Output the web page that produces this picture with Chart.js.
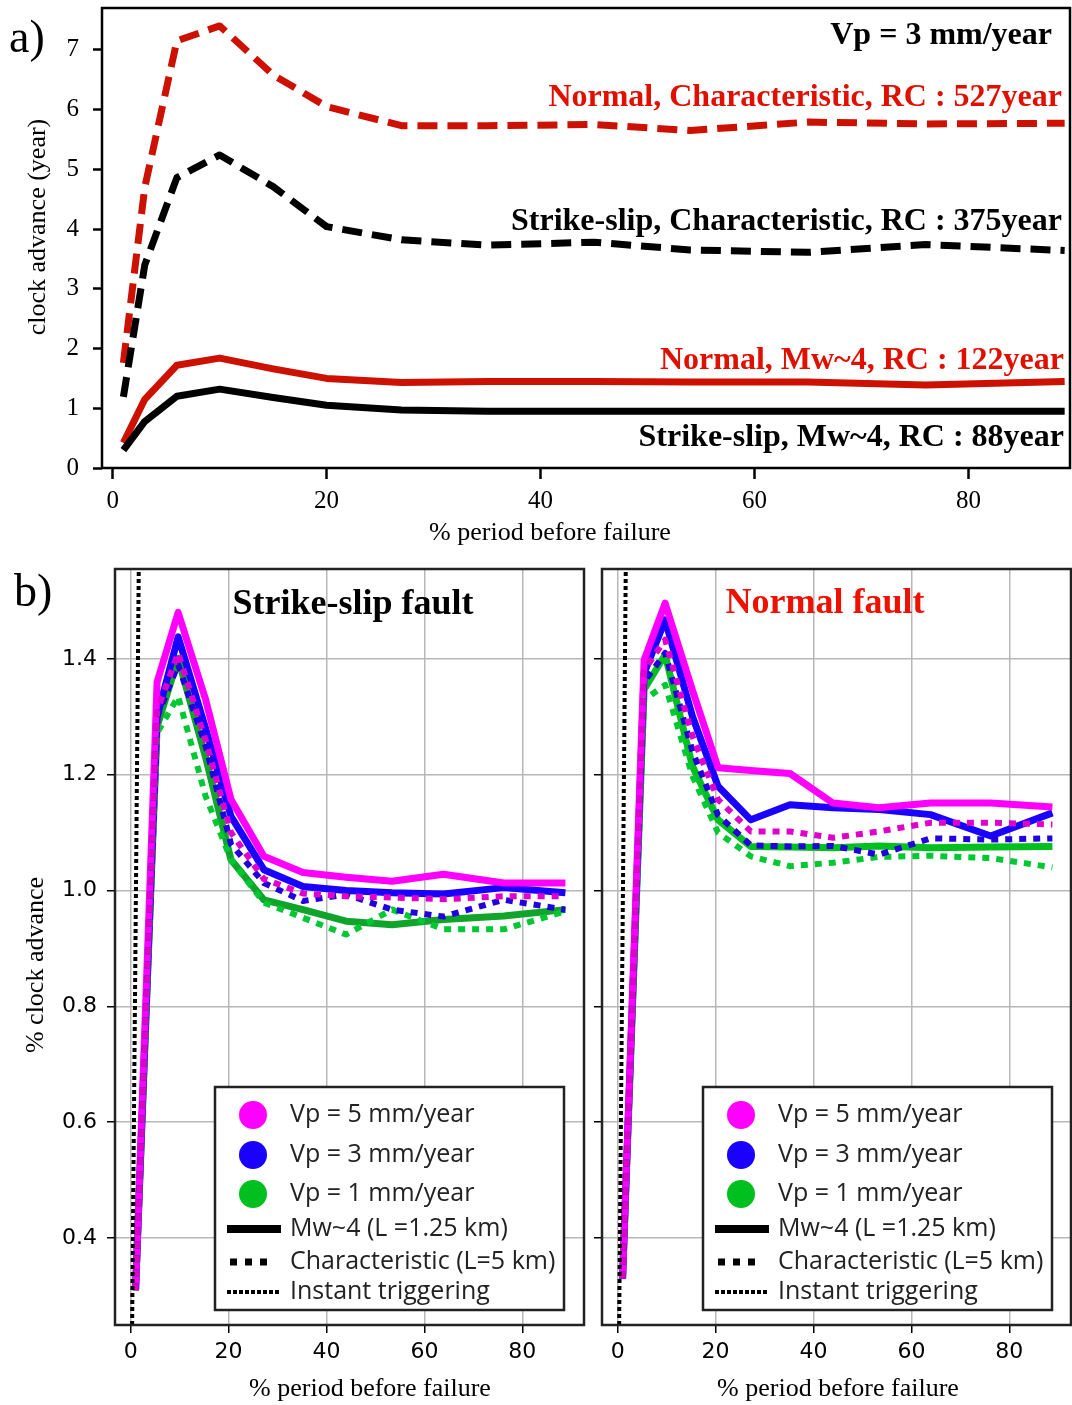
<!DOCTYPE html>
<html>
<head>
<meta charset="utf-8">
<script src="https://cdn.jsdelivr.net/npm/chart.js@4.4.1/dist/chart.umd.min.js"></script>
<style>
  body { margin: 0; background: #fff; }
  #wrap { position: relative; width: 1072px; height: 1405px; }
  .panel { position: absolute; }
  .tag { position: absolute; font-family: "Liberation Serif", serif; font-size: 46px; line-height: 1; color: #000; }
</style>
</head>
<body>
<div id="wrap">
  <div class="panel" style="left:0;top:0;width:1072px;height:560px"><canvas id="chartA"></canvas></div>
  <div class="panel" style="left:0;top:560px;width:590px;height:845px"><canvas id="chartSS"></canvas></div>
  <div class="panel" style="left:590px;top:560px;width:482px;height:845px"><canvas id="chartN"></canvas></div>
  <div class="tag" style="left:9px;top:14px">a)</div>
  <div class="tag" style="left:14px;top:568px">b)</div>
</div>
<script>
// ---- panel a : clock advance (year), Vp = 3 mm/year ----
const xA = [1, 3, 6, 10, 15, 20, 27, 35, 45, 54, 65, 76, 89];
const normalChar = [1.76, 4.7, 7.15, 7.4, 6.58, 6.05, 5.73, 5.73, 5.75, 5.65, 5.79, 5.76, 5.77];
const ssChar = [1.19, 3.4, 4.86, 5.24, 4.71, 4.04, 3.82, 3.73, 3.78, 3.65, 3.61, 3.74, 3.64];
const normalMw4 = [0.42, 1.15, 1.72, 1.84, 1.66, 1.5, 1.43, 1.45, 1.45, 1.44, 1.44, 1.39, 1.45];
const ssMw4 = [0.3, 0.78, 1.2, 1.32, 1.18, 1.05, 0.97, 0.95, 0.95, 0.95, 0.95, 0.95, 0.95];
const ticksAx = [0, 20, 40, 60, 80];
const ticksAy = [0, 1, 2, 3, 4, 5, 6, 7];

// ---- panel b : % clock advance ----
const xB = [1, 5.4, 9.7, 15.3, 20.5, 27.2, 35.2, 44, 53.4, 63.9, 76.2, 88.8];
// strike-slip fault
const ssVp5Mw4 = [0.31, 1.36, 1.48, 1.33, 1.157, 1.059, 1.031, 1.023, 1.016, 1.028, 1.013, 1.013];
const ssVp3Mw4 = [0.31, 1.3, 1.438, 1.28, 1.128, 1.036, 1.007, 1.0, 0.996, 0.994, 1.005, 0.996];
const ssVp1Mw4 = [0.31, 1.283, 1.401, 1.23, 1.053, 0.984, 0.967, 0.947, 0.941, 0.95, 0.956, 0.967];
const ssVp5Char = [0.31, 1.31, 1.41, 1.26, 1.1, 1.02, 0.995, 0.99, 0.988, 0.985, 0.99, 0.99];
const ssVp3Char = [0.31, 1.3, 1.39, 1.25, 1.08, 1.013, 0.982, 0.993, 0.967, 0.955, 0.984, 0.967];
const ssVp1Char = [0.31, 1.272, 1.335, 1.163, 1.053, 0.979, 0.953, 0.924, 0.967, 0.933, 0.933, 0.964];
// normal fault
const nVp5Mw4 = [0.33, 1.398, 1.496, 1.345, 1.212, 1.207, 1.202, 1.151, 1.143, 1.151, 1.151, 1.144];
const nVp3Mw4 = [0.33, 1.375, 1.467, 1.3, 1.18, 1.122, 1.148, 1.143, 1.14, 1.131, 1.094, 1.134];
const nVp1Mw4 = [0.33, 1.347, 1.407, 1.214, 1.122, 1.076, 1.075, 1.074, 1.077, 1.074, 1.075, 1.076];
const nVp5Char = [0.33, 1.38, 1.433, 1.266, 1.157, 1.102, 1.102, 1.091, 1.102, 1.117, 1.117, 1.114];
const nVp3Char = [0.33, 1.36, 1.41, 1.24, 1.13, 1.078, 1.076, 1.077, 1.062, 1.09, 1.088, 1.09];
const nVp1Char = [0.33, 1.329, 1.355, 1.197, 1.1, 1.059, 1.042, 1.048, 1.058, 1.06, 1.056, 1.04];
// instant triggering
const instX = [0.3, 1.7];
const instY = [0.25, 1.6];
const ticksBx = [0, 20, 40, 60, 80];
const ticksBy = [0.4, 0.6, 0.8, 1.0, 1.2, 1.4];

const legendLabels = ['Vp = 5 mm/year', 'Vp = 3 mm/year', 'Vp = 1 mm/year',
  'Mw~4 (L =1.25 km)', 'Characteristic (L=5 km)', 'Instant triggering'];

const RED = '#cc1100';
const RED_TEXT = '#e01000';
const MAGENTA = '#ff00ff';
const MAGENTA_DOT = '#e000cc';
const BLUE = '#1a00ff';
const BLUE_DOT = '#2200dd';
const GREEN = '#00c020';
const GREEN_DARK = '#10a42a';
const GREEN_DOT = '#00c832';

const pts = (xs, ys) => xs.map((x, i) => ({ x: x, y: ys[i] }));

function line(xs, ys, color, width, dash) {
  return {
    data: pts(xs, ys),
    borderColor: color,
    borderWidth: width,
    borderDash: dash || [],
    borderCapStyle: 'butt',
    borderJoinStyle: 'round',
    pointRadius: 0,
    tension: 0,
    fill: false,
  };
}

// no extra room for half tick labels, the plot area is fixed
const fixX = h => s => { s.height = h; s.paddingLeft = 0; s.paddingRight = 0; };
const fixY = w => s => { s.width = w; s.paddingTop = 0; s.paddingBottom = 0; };

// frame round the plot area
const framePlugin = {
  id: 'frame',
  afterDraw(chart, args, opts) {
    const a = chart.chartArea, ctx = chart.ctx;
    ctx.save();
    ctx.strokeStyle = opts.color || '#000';
    ctx.lineWidth = opts.width || 2;
    ctx.strokeRect(a.left, a.top, a.right - a.left, a.bottom - a.top);
    ctx.restore();
  }
};

// free text (labels, titles, axis names)
const notesPlugin = {
  id: 'notes',
  afterDraw(chart, args, opts) {
    const ctx = chart.ctx;
    (opts.items || []).forEach(n => {
      ctx.save();
      ctx.font = n.font;
      ctx.fillStyle = n.color || '#000';
      ctx.textAlign = n.align || 'center';
      ctx.textBaseline = 'middle';
      ctx.translate(n.x, n.y);
      if (n.rotate) ctx.rotate(n.rotate);
      ctx.fillText(n.text, 0, 0);
      ctx.restore();
    });
  }
};

// boxed legend inside panel b
const boxLegendPlugin = {
  id: 'boxLegend',
  afterDraw(chart, args, opts) {
    if (!opts.left) return;
    const ctx = chart.ctx;
    const L = opts.left, T = opts.top;
    const rows = [28, 68, 107, 142, 175, 205];
    ctx.save();
    ctx.fillStyle = '#fff';
    ctx.fillRect(L, T, 349, 223);
    ctx.strokeStyle = '#222';
    ctx.lineWidth = 2.5;
    ctx.strokeRect(L, T, 349, 223);
    const dots = [MAGENTA, BLUE, GREEN];
    dots.forEach((c, i) => {
      ctx.beginPath();
      ctx.fillStyle = c;
      ctx.arc(L + 38, T + rows[i], 14, 0, Math.PI * 2);
      ctx.fill();
    });
    const styles = [
      { w: 8, dash: [], x0: 12, x1: 66 },
      { w: 7, dash: [7, 8], x0: 15, x1: 53 },
      { w: 4, dash: [4, 2], x0: 12, x1: 66 },
    ];
    styles.forEach((s, i) => {
      ctx.beginPath();
      ctx.strokeStyle = '#000';
      ctx.lineWidth = s.w;
      ctx.setLineDash(s.dash);
      ctx.moveTo(L + s.x0, T + rows[i + 3]);
      ctx.lineTo(L + s.x1, T + rows[i + 3]);
      ctx.stroke();
    });
    ctx.setLineDash([]);
    ctx.fillStyle = '#222';
    ctx.font = '25px "Open Sans"';
    ctx.textAlign = 'left';
    ctx.textBaseline = 'middle';
    legendLabels.forEach((t, i) => ctx.fillText(t, L + 75, T + rows[i]));
    ctx.restore();
  }
};

const serif = '"Liberation Serif", serif';

// ---------------- panel a ----------------
new Chart(document.getElementById('chartA'), {
  type: 'line',
  data: {
    datasets: [
      line(xA, ssMw4, '#000', 7),
      line(xA, normalMw4, RED, 7),
      line(xA, ssChar, '#000', 7, [20, 10]),
      line(xA, normalChar, RED, 7, [20, 10]),
    ],
  },
  options: {
    responsive: true,
    maintainAspectRatio: false,
    animation: false,
    devicePixelRatio: 1,
    layout: { padding: { top: 8, right: 2, left: 0, bottom: 0 } },
    plugins: {
      legend: { display: false },
      tooltip: { enabled: false },
      frame: { width: 2.5, color: '#000' },
      notes: {
        items: [
          { text: 'Vp = 3 mm/year', x: 1052, y: 36, align: 'right', font: 'bold 32px ' + serif },
          { text: 'Normal, Characteristic, RC : 527year', x: 1062, y: 98, align: 'right', color: RED_TEXT, font: 'bold 32px ' + serif },
          { text: 'Strike-slip, Characteristic, RC : 375year', x: 1062, y: 222, align: 'right', font: 'bold 32px ' + serif },
          { text: 'Normal, Mw~4, RC : 122year', x: 1064, y: 361, align: 'right', color: RED_TEXT, font: 'bold 32px ' + serif },
          { text: 'Strike-slip, Mw~4, RC : 88year', x: 1064, y: 438, align: 'right', font: 'bold 32px ' + serif },
          { text: 'clock advance (year)', x: 38, y: 227, rotate: -Math.PI / 2, font: '26px ' + serif },
          { text: '% period before failure', x: 550, y: 533, font: '26px ' + serif },
        ],
      },
    },
    scales: {
      x: {
        type: 'linear', min: -1, max: 89.5,
        afterFit: fixX(92),
        afterBuildTicks: s => { s.ticks = ticksAx.map(v => ({ value: v })); },
        border: { display: false },
        grid: { drawOnChartArea: false, drawTicks: true, tickLength: 11, tickColor: '#000', tickWidth: 2.5 },
        ticks: { font: { family: serif, size: 25 }, color: '#000', padding: 7, maxRotation: 0 },
      },
      y: {
        type: 'linear', min: 0, max: 7.7,
        afterFit: fixY(102),
        afterBuildTicks: s => { s.ticks = ticksAy.map(v => ({ value: v })); },
        border: { display: false },
        grid: { drawOnChartArea: false, drawTicks: true, tickLength: 9, tickColor: '#000', tickWidth: 2.5 },
        ticks: { font: { family: serif, size: 25 }, color: '#000', padding: 14 },
      },
    },
  },
  plugins: [framePlugin, notesPlugin],
});

// ---------------- panel b ----------------
function panelB(id, series, opts) {
  return new Chart(document.getElementById(id), {
    type: 'line',
    data: { datasets: series },
    options: {
      responsive: true,
      maintainAspectRatio: false,
      animation: false,
      devicePixelRatio: 1,
      layout: { padding: { top: 9, right: opts.padRight, left: 0, bottom: 0 } },
      plugins: {
        legend: { display: false },
        tooltip: { enabled: false },
        frame: { width: 2.5, color: '#222' },
        notes: { items: opts.notes },
        boxLegend: { left: opts.legendLeft, top: 527 },
      },
      scales: {
        x: {
          type: 'linear', min: -3.2, max: 92.6,
          afterFit: fixX(80),
          afterBuildTicks: s => { s.ticks = ticksBx.map(v => ({ value: v })); },
          border: { display: false },
          grid: { color: '#b8b8b8', lineWidth: 1.5, drawTicks: true, tickLength: 8, tickColor: '#000', tickWidth: 1.5 },
          ticks: { font: { family: '"DejaVu Sans"', size: 22 }, color: '#000', padding: 6, maxRotation: 0 },
        },
        y: {
          type: 'linear', min: 0.25, max: 1.555,
          afterFit: fixY(opts.yWidth),
          afterBuildTicks: s => { s.ticks = ticksBy.map(v => ({ value: v })); },
          border: { display: false },
          grid: { color: '#b8b8b8', lineWidth: 1.5, drawTicks: true, tickLength: 8, tickColor: '#000', tickWidth: 1.5 },
          ticks: {
            display: opts.yLabels,
            font: { family: '"DejaVu Sans"', size: 22 }, color: '#000', padding: 10,
            callback: v => v.toFixed(1),
          },
        },
      },
    },
    plugins: [framePlugin, notesPlugin, boxLegendPlugin],
  });
}

const dotted = [7, 7];
panelB('chartSS', [
  line(instX, instY, '#000', 4, [4, 3]),
  line(xB, ssVp5Char, MAGENTA_DOT, 6, dotted),
  line(xB, ssVp3Char, BLUE_DOT, 6, dotted),
  line(xB, ssVp1Char, GREEN_DOT, 6, dotted),
  line(xB, ssVp5Mw4, MAGENTA, 7),
  line(xB, ssVp3Mw4, BLUE, 7),
  line(xB, ssVp1Mw4, GREEN_DARK, 7),
], {
  padRight: 6, yWidth: 115, yLabels: true, legendLeft: 215,
  notes: [
    { text: 'Strike-slip fault', x: 353, y: 45, font: 'bold 36px ' + serif },
    { text: '% clock advance', x: 36, y: 405, rotate: -Math.PI / 2, font: '26px ' + serif },
    { text: '% period before failure', x: 370, y: 829, font: '26px ' + serif },
  ],
});

panelB('chartN', [
  line(instX, instY, '#000', 4, [4, 3]),
  line(xB, nVp5Char, MAGENTA_DOT, 6, dotted),
  line(xB, nVp3Char, BLUE_DOT, 6, dotted),
  line(xB, nVp1Char, GREEN_DOT, 6, dotted),
  line(xB, nVp5Mw4, MAGENTA, 7),
  line(xB, nVp3Mw4, BLUE, 7),
  line(xB, nVp1Mw4, GREEN, 7),
], {
  padRight: 1, yWidth: 12, yLabels: false, legendLeft: 113,
  notes: [
    { text: 'Normal fault', x: 235, y: 44, color: '#ee1100', font: 'bold 36px ' + serif },
    { text: '% period before failure', x: 248, y: 829, font: '26px ' + serif },
  ],
});
</script>
</body>
</html>
